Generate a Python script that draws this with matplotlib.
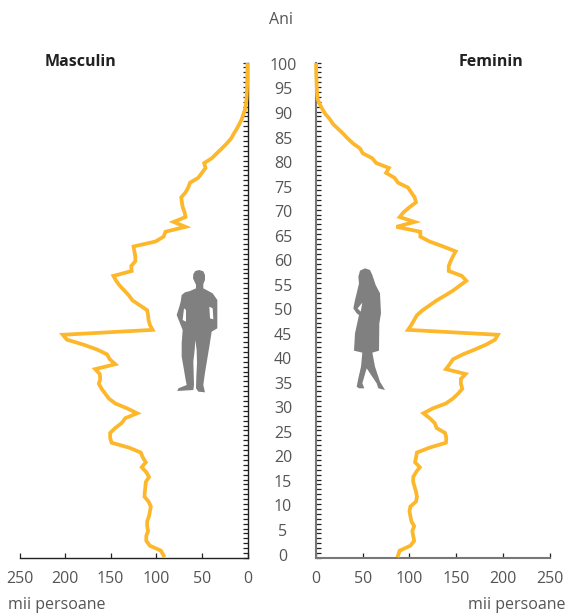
import matplotlib
matplotlib.use("Agg")
import matplotlib.pyplot as plt
from matplotlib.patches import Polygon
from matplotlib.transforms import blended_transform_factory, Affine2D, ScaledTranslation

plt.rcParams['font.family'] = ['Open Sans', 'DejaVu Sans']

male = [92,95,107,111,111,109,110,110,108,107,106,108.5,113,112.6,112,111.5,108,111,116,111.5,
        114.8,117,130,149,150.6,150.6,145,138,134,121,132,145,152,156,160,163,161.5,162,167,145,
        151,154,165,180,198,202.5,104,107,108.5,109,110,118,126,130,135,140,144,147,127,127.5,
        123,123,124,125,101,92,90,68,81,68,69,71,72,72.7,68,65,63,54,50,46,
        47.5,39,33.6,28,22.7,18,15,11.7,8.8,6.2,4.4,2.6,1.8,1.1,0.8,0.6,0.4,0.3,0.2,0.1,0.1]
female = [87.7,89.5,101,105,104,103,105,102,101,100,101,107,108,107,105.5,104,104,107,111,106,
          107,108,121.6,139,139.4,138,129,127,121.6,115,125,139,146.5,152,156.5,155,155,160,139,143,
          146.5,157,170,182,191.5,194.6,98.4,102,105,108,114,121.6,129,138,146.5,153.6,160.8,156,142,142,
          144,146.5,149.4,136,121.6,111.6,111.6,86,105.5,89.5,93.8,100,107,105.5,102,98.4,87.7,84,75,78,
          64.5,60,50,47,39.6,34,29,23.5,18,14.6,10,6.8,4,1.8,1.2,0.9,0.7,0.5,0.3,0.2,0.1]
ages = list(range(101))
age_labels = list(range(0, 101, 5))
x_ticks = [0, 50, 100, 150, 200, 250]
title_m, title_f, ylabel, xunit = "Masculin", "Feminin", "Ani", "mii persoane"

W, H = 566, 613
LINE = "#FDB72B"
TXT = "#555555"
fig = plt.figure(figsize=(W/100, H/100), dpi=100, facecolor="white")

def make_ax(x0, x1):
    return fig.add_axes([x0/W, 1-558/H, (x1-x0)/W, (558-62.5)/H])

axL = make_ax(19.5, 247.5)
axR = make_ax(316, 549.7)
axL.set_xlim(250, 0)
axR.set_xlim(0, 250)
boundaries = [a-0.5 for a in ages] + [100.5]
for ax in (axL, axR):
    ax.set_ylim(-0.5, 100.5)
    ax.patch.set_alpha(0)
    ax.spines['top'].set_visible(False)
    ax.set_yticks(boundaries)
    ax.set_yticklabels([])
    ax.set_xticks(x_ticks)
    ax.tick_params(axis='y', direction='in', length=3.8, width=0.9, color="#222222")
    ax.tick_params(axis='x', direction='in', length=3.8, width=0.9, color="#222222",
                   labelsize=11.5, labelcolor=TXT, pad=9.5)
axL.spines['left'].set_visible(False)
axL.yaxis.tick_right()
axL.spines['right'].set_linewidth(1.0)
axL.spines['right'].set_color("#222222")
axL.spines['bottom'].set_linewidth(1.0)
axL.spines['bottom'].set_color("#222222")
axL.tick_params(axis='y', labelright=False)
axR.spines['right'].set_visible(False)
axR.spines['left'].set_linewidth(1.5)
axR.spines['left'].set_color("#777777")
axR.spines['bottom'].set_linewidth(1.5)
axR.spines['bottom'].set_color("#777777")

axL.plot(male, ages, color=LINE, lw=2.7, solid_joinstyle='miter', clip_on=False, zorder=5)
axR.plot(female, ages, color=LINE, lw=2.7, solid_joinstyle='miter', clip_on=False, zorder=5)

# centre age labels
tr = blended_transform_factory(fig.transFigure, axL.transData) + Affine2D().translate(0, -1)
for a in age_labels:
    axL.text(283/W, a, str(a), transform=tr, ha='center', va='center',
             fontsize=11.5, color=TXT, clip_on=False)

def ftext(x, y, s, **kw):
    fig.text(x/W, 1-y/H, s, va='center', **kw)

ftext(281, 20, ylabel, ha='center', fontsize=11.5, color=TXT)
ftext(45, 62.5, title_m, ha='left', fontsize=11.5, fontweight='bold', color="#222222")
ftext(459, 62.5, title_f, ha='left', fontsize=11.5, fontweight='bold', color="#222222")
ftext(8, 605, xunit, ha='left', fontsize=11.5, color=TXT)
ftext(565, 605, xunit, ha='right', fontsize=11.5, color=TXT)

# decorative silhouettes, outlined in crop coordinates (scale 1/3 of zoomed crop)
man = [(88,30),(76,33),(70,42),(69,55),(74,66),(78,74),(78,85),(60,93),(45,97),(35,105),(32,125),(28,140),(20,165),
       (30,190),(38,210),(35,250),(35,290),(42,330),(47,360),(50,375),(25,385),(22,393),(70,390),(72,375),
       (71,340),(70,305),(74,270),(76,240),(80,270),(81,310),(79,350),(78,385),(85,395),(105,397),(100,375),
       (104,345),(108,320),(118,260),(125,215),(142,205),(142,120),(128,100),(100,85),(100,72),(105,60),
       (105,45),(100,34)]
man_gaps = [[(42,145),(38,180),(48,185),(48,150)], [(118,140),(120,175),(130,178),(128,145)]]
woman = [(60,25),(45,32),(40,50),(42,70),(35,100),(30,120),(25,145),(35,160),(42,165),(30,220),(27,272),
         (52,278),(48,320),(40,355),(35,380),(42,385),(58,385),(52,370),(65,325),(95,370),(100,385),(120,390),
         (105,365),(90,320),(82,278),(102,272),(103,190),(108,160),(105,100),(92,75),(82,45),(75,30)]
woman_gaps = [[(38,145),(47,155),(52,128)]]

def crop_tr(x0, y0):
    return Affine2D().scale(1/3, -1/3).translate(x0, H-y0)

for outline, gaps, x0 in ((man, man_gaps, 170), (woman, woman_gaps, 345)):
    t = crop_tr(x0, 260)
    fig.add_artist(Polygon(outline, closed=True, transform=t, fc="#808080", ec="none"))
    for g in gaps:
        fig.add_artist(Polygon(g, closed=True, transform=t, fc="white", ec="none"))

fig.savefig("out.png", dpi=100, facecolor="white")
